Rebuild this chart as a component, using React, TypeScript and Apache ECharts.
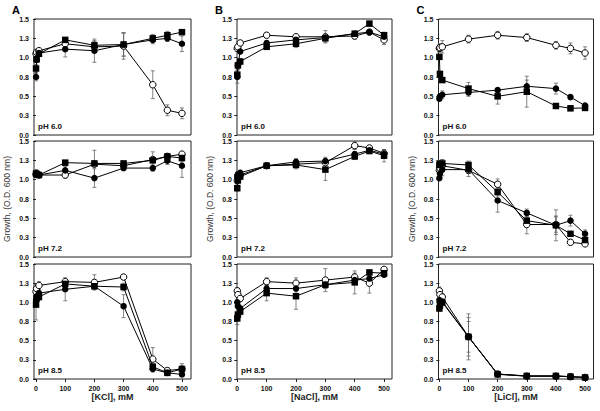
import React, { useEffect, useRef } from "react";
import * as echarts from "echarts";

// concentrations (mM)
const conc = [0, 2, 10, 100, 200, 300, 400, 450, 500];
const xTickValues = [0, 100, 200, 300, 400, 500];
const yTickLabels = ["0.0", "0.3", "0.5", "0.8", "1.0", "1.3", "1.5"];
const phLabels = ["pH 6.0", "pH 7.2", "pH 8.5"];
const saltTitles = ["[KCl], mM", "[NaCl], mM", "[LiCl], mM"];
const panelLetters = ["A", "B", "C"];

// KCl pH 6.0
const kcl60Filled = [0.75, 0.97, 1.06, 1.11, 1.09, 1.17, 1.23, 1.25, 1.18];
const kcl60Open = [1.05, 1.07, 1.09, 1.18, 1.14, 1.15, 0.65, 0.32, 0.28];
const kcl60Square = [0.86, 0.98, 1.05, 1.23, 1.16, 1.17, 1.25, 1.29, 1.33];
const kcl60FilledErr = [0.05, 0.03, 0.03, 0.1, 0.15, 0.15, 0.05, 0.04, 0.1];
const kcl60OpenErr = [0.03, 0.03, 0.03, 0.05, 0.08, 0.17, 0.18, 0.07, 0.07];
const kcl60SquareErr = [0.05, 0.03, 0.03, 0.03, 0.05, 0.15, 0.05, 0.05, 0.03];
// NaCl pH 6.0
const nacl60Filled = [0.75, 0.9, 1.08, 1.19, 1.23, 1.26, 1.31, 1.33, 1.27];
const nacl60Open = [1.12, 1.14, 1.19, 1.29, 1.27, 1.27, 1.28, 1.33, 1.23];
const nacl60Square = [0.78, 0.9, 0.95, 1.14, 1.18, 1.25, 1.31, 1.44, 1.29];
const nacl60FilledErr = [0.08, 0.05, 0.03, 0.03, 0.03, 0.03, 0.03, 0.03, 0.05];
const nacl60OpenErr = [0.03, 0.03, 0.03, 0.03, 0.03, 0.08, 0.04, 0.03, 0.06];
const nacl60SquareErr = [0.05, 0.05, 0.04, 0.03, 0.05, 0.05, 0.03, 0.03, 0.04];
// LiCl pH 6.0
const licl60Filled = [0.47, 0.5, 0.52, 0.55, 0.58, 0.63, 0.6, 0.49, 0.38];
const licl60Open = [1.12, 1.13, 1.14, 1.24, 1.29, 1.26, 1.16, 1.12, 1.06];
const licl60Square = [1.01, 0.79, 0.71, 0.6, 0.5, 0.56, 0.375, 0.345, 0.35];
const licl60FilledErr = [0.03, 0.03, 0.05, 0.05, 0.03, 0.08, 0.07, 0.03, 0.03];
const licl60OpenErr = [0.05, 0.05, 0.08, 0.05, 0.05, 0.05, 0.05, 0.07, 0.08];
const licl60SquareErr = [0.03, 0.03, 0.03, 0.08, 0.1, 0.2, 0.03, 0.03, 0.03];

// KCl pH 7.2
const kcl72Filled = [1.08, 1.07, 1.06, 1.12, 1.02, 1.15, 1.15, 1.245, 1.18];
const kcl72Open = [1.07, 1.07, 1.06, 1.06, 1.2, 1.18, 1.26, 1.3, 1.33];
const kcl72Square = [1.08, 1.07, 1.06, 1.22, 1.21, 1.21, 1.25, 1.3, 1.28];
const kcl72FilledErr = [0.05, 0.03, 0.03, 0.05, 0.12, 0.03, 0.04, 0.05, 0.15];
const kcl72OpenErr = [0.04, 0.03, 0.03, 0.04, 0.18, 0.03, 0.1, 0.03, 0.03];
const kcl72SquareErr = [0.05, 0.03, 0.03, 0.03, 0.03, 0.03, 0.03, 0.04, 0.05];
// NaCl pH 7.2
const nacl72Filled = [1.05, 1.07, 1.09, 1.18, 1.23, 1.24, 1.33, 1.38, 1.33];
const nacl72Open = [0.99, 1.03, 1.06, 1.18, 1.2, 1.22, 1.44, 1.41, 1.34];
const nacl72Square = [0.89, 0.99, 1.04, 1.18, 1.19, 1.13, 1.3, 1.37, 1.31];
const nacl72FilledErr = [0.04, 0.03, 0.03, 0.03, 0.04, 0.05, 0.03, 0.03, 0.05];
const nacl72OpenErr = [0.03, 0.03, 0.03, 0.03, 0.03, 0.03, 0.05, 0.03, 0.05];
const nacl72SquareErr = [0.04, 0.03, 0.03, 0.03, 0.05, 0.14, 0.04, 0.03, 0.08];
// LiCl pH 7.2
const licl72Filled = [1.02, 1.08, 1.13, 1.13, 0.73, 0.57, 0.41, 0.47, 0.3];
const licl72Open = [1.12, 1.15, 1.18, 1.12, 0.94, 0.42, 0.42, 0.19, 0.17];
const licl72Square = [1.19, 1.2, 1.21, 1.19, 0.84, 0.47, 0.41, 0.3, 0.22];
const licl72FilledErr = [0.03, 0.05, 0.08, 0.05, 0.15, 0.05, 0.12, 0.07, 0.05];
const licl72OpenErr = [0.05, 0.05, 0.08, 0.08, 0.07, 0.12, 0.1, 0.03, 0.03];
const licl72SquareErr = [0.05, 0.05, 0.05, 0.05, 0.05, 0.05, 0.2, 0.03, 0.03];

// KCl pH 8.5
const kcl85Filled = [1.03, 1.08, 1.12, 1.17, 1.21, 0.95, 0.13, 0.08, 0.06];
const kcl85Open = [1.14, 1.18, 1.22, 1.27, 1.26, 1.33, 0.26, 0.11, 0.13];
const kcl85Square = [0.97, 1.05, 1.07, 1.24, 1.21, 1.2, 0.16, 0.08, 0.13];
const kcl85FilledErr = [0.04, 0.03, 0.03, 0.15, 0.04, 0.15, 0.04, 0.02, 0.02];
const kcl85OpenErr = [0.04, 0.05, 0.05, 0.03, 0.1, 0.03, 0.15, 0.03, 0.03];
const kcl85SquareErr = [0.2, 0.04, 0.04, 0.03, 0.04, 0.05, 0.04, 0.03, 0.07];
// NaCl pH 8.5
const nacl85Filled = [1.0, 0.95, 0.92, 1.18, 1.18, 1.23, 1.29, 1.31, 1.36];
const nacl85Open = [1.15, 1.1, 1.05, 1.27, 1.25, 1.29, 1.33, 1.25, 1.43];
const nacl85Square = [0.79, 0.84, 0.88, 1.12, 1.08, 1.23, 1.26, 1.39, 1.38];
const nacl85FilledErr = [0.04, 0.04, 0.04, 0.05, 0.04, 0.05, 0.05, 0.04, 0.03];
const nacl85OpenErr = [0.04, 0.04, 0.04, 0.05, 0.07, 0.15, 0.05, 0.13, 0.03];
const nacl85SquareErr = [0.08, 0.05, 0.04, 0.1, 0.17, 0.05, 0.15, 0.03, 0.03];
// LiCl pH 8.5
const licl85Filled = [1.03, 1.02, 1.01, 0.55, 0.065, 0.04, 0.04, 0.03, 0.02];
const licl85Open = [1.15, 1.1, 1.07, 0.55, 0.065, 0.035, 0.035, 0.03, 0.02];
const licl85Square = [0.92, 0.96, 1.0, 0.55, 0.06, 0.04, 0.04, 0.03, 0.02];
const licl85FilledErr = [0.04, 0.04, 0.04, 0.3, 0.02, 0.01, 0.01, 0.01, 0.01];
const licl85OpenErr = [0.05, 0.04, 0.04, 0.25, 0.02, 0.01, 0.01, 0.01, 0.01];
const licl85SquareErr = [0.04, 0.04, 0.04, 0.2, 0.02, 0.01, 0.01, 0.01, 0.01];

type Panel = { col: number; row: number; filled: number[]; open: number[]; square: number[]; fErr: number[]; oErr: number[]; sErr: number[] };
const panels: Panel[] = [
  { col: 0, row: 0, filled: kcl60Filled, open: kcl60Open, square: kcl60Square, fErr: kcl60FilledErr, oErr: kcl60OpenErr, sErr: kcl60SquareErr },
  { col: 1, row: 0, filled: nacl60Filled, open: nacl60Open, square: nacl60Square, fErr: nacl60FilledErr, oErr: nacl60OpenErr, sErr: nacl60SquareErr },
  { col: 2, row: 0, filled: licl60Filled, open: licl60Open, square: licl60Square, fErr: licl60FilledErr, oErr: licl60OpenErr, sErr: licl60SquareErr },
  { col: 0, row: 1, filled: kcl72Filled, open: kcl72Open, square: kcl72Square, fErr: kcl72FilledErr, oErr: kcl72OpenErr, sErr: kcl72SquareErr },
  { col: 1, row: 1, filled: nacl72Filled, open: nacl72Open, square: nacl72Square, fErr: nacl72FilledErr, oErr: nacl72OpenErr, sErr: nacl72SquareErr },
  { col: 2, row: 1, filled: licl72Filled, open: licl72Open, square: licl72Square, fErr: licl72FilledErr, oErr: licl72OpenErr, sErr: licl72SquareErr },
  { col: 0, row: 2, filled: kcl85Filled, open: kcl85Open, square: kcl85Square, fErr: kcl85FilledErr, oErr: kcl85OpenErr, sErr: kcl85SquareErr },
  { col: 1, row: 2, filled: nacl85Filled, open: nacl85Open, square: nacl85Square, fErr: nacl85FilledErr, oErr: nacl85OpenErr, sErr: nacl85SquareErr },
  { col: 2, row: 2, filled: licl85Filled, open: licl85Open, square: licl85Square, fErr: licl85FilledErr, oErr: licl85OpenErr, sErr: licl85SquareErr },
];

// layout
const colLeft = [34, 237, 438.5];
const colWidth = [157, 155, 155];
const colXMin = [-7, -1, -3];
const colXMax = [531, 527, 529];
const rowTop = [19, 141, 264];
const rowHeight = [116, 116, 115];

const FONT = "'Liberation Sans', Arial, sans-serif";

function buildOption() {
  const grid: any[] = [];
  const xAxis: any[] = [];
  const yAxis: any[] = [];
  const series: any[] = [];
  const graphic: any[] = [];

  panels.forEach((p, i) => {
    const left = colLeft[p.col];
    const top = rowTop[p.row];
    const w = colWidth[p.col];
    const h = rowHeight[p.row];
    grid.push({ left, top, width: w, height: h, show: true, borderColor: "#222", borderWidth: 1, backgroundColor: "#fff", containLabel: false });
    const bottomRow = p.row === 2;
    xAxis.push({
      type: "value", gridIndex: i, min: colXMin[p.col], max: colXMax[p.col],
      axisLine: { show: false }, splitLine: { show: false },
      axisTick: { show: bottomRow, customValues: xTickValues, length: 3, lineStyle: { color: "#222" } },
      axisLabel: {
        show: bottomRow, customValues: xTickValues, fontSize: 7, fontWeight: "bold", color: "#111",
        fontFamily: FONT, margin: 6, formatter: (v: number) => String(Math.round(v)),
      },
    });
    yAxis.push({
      type: "value", gridIndex: i, min: 0, max: 1.5, interval: 0.25,
      axisLine: { show: false }, splitLine: { show: false },
      axisTick: { show: true, length: 3, lineStyle: { color: "#222" } },
      axisLabel: {
        fontSize: 7, fontWeight: "bold", color: "#111", fontFamily: FONT, margin: 5,
        formatter: (v: number) => yTickLabels[Math.round(v / 0.25)] ?? "",
      },
    });

    // drawing order: open circles (bottom), filled circles, squares (top)
    const sets = [
      { vals: p.open, errs: p.oErr, symbol: "circle", color: "#fff", size: 6.5 },
      { vals: p.filled, errs: p.fErr, symbol: "circle", color: "#000", size: 6.5 },
      { vals: p.square, errs: p.sErr, symbol: "rect", color: "#000", size: 6.5 },
    ];
    sets.forEach((s, k) => {
      series.push({
        type: "custom", xAxisIndex: i, yAxisIndex: i, z: 1, clip: false,
        data: conc.map((c, j) => [c, s.vals[j], s.errs[j]]),
        encode: { x: 0, y: 1 },
        renderItem: (params: any, api: any) => {
          const x = api.value(0), y = api.value(1), e = api.value(2);
          const a = api.coord([x, y + e]);
          const b = api.coord([x, y - e]);
          const st = { stroke: "#666", lineWidth: 0.8 };
          return {
            type: "group",
            children: [
              { type: "line", shape: { x1: a[0], y1: a[1], x2: b[0], y2: b[1] }, style: st },
              { type: "line", shape: { x1: a[0] - 2, y1: a[1], x2: a[0] + 2, y2: a[1] }, style: st },
              { type: "line", shape: { x1: b[0] - 2, y1: b[1], x2: b[0] + 2, y2: b[1] }, style: st },
            ],
          };
        },
      });
      series.push({
        type: "line", xAxisIndex: i, yAxisIndex: i, z: 3 + k,
        data: conc.map((c, j) => [c, s.vals[j]]),
        symbol: s.symbol, symbolSize: s.size, showSymbol: true,
        lineStyle: { color: "#000", width: 1 },
        itemStyle: { color: s.color, borderColor: "#000", borderWidth: s.color === "#fff" ? 1 : 0 },
        emphasis: { disabled: true },
      });
    });

    graphic.push({
      type: "text", left: left + 4, top: top + h - 13, z: 10,
      style: { text: phLabels[p.row], fontSize: 8, fontWeight: "bold", fill: "#111", fontFamily: FONT },
    });
  });

  // column letters, axis titles
  [0, 1, 2].forEach((c) => {
    const left = colLeft[c];
    const w = colWidth[c];
    graphic.push({
      type: "text", left: left - 22, top: 4,
      style: { text: panelLetters[c], fontSize: 11, fontWeight: "bold", fill: "#000", fontFamily: FONT },
    });
    graphic.push({
      type: "text", x: left + w / 2, y: 397,
      style: { text: saltTitles[c], fontSize: 9, fontWeight: "bold", fill: "#222", fontFamily: FONT, align: "center", verticalAlign: "middle" },
    });
    graphic.push({
      type: "text", x: left - 27, y: rowTop[1] + rowHeight[1] / 2, rotation: Math.PI / 2,
      style: { text: "Growth, (O.D. 600 nm)", fontSize: 8.5, fill: "#333", fontFamily: FONT, align: "center", verticalAlign: "middle" },
    });
  });

  return { animation: false, backgroundColor: "#fff", grid, xAxis, yAxis, series, graphic, tooltip: { show: false } };
}

export default function App() {
  const ref = useRef<HTMLDivElement>(null);
  useEffect(() => {
    if (!ref.current) return;
    const chart = echarts.init(ref.current, undefined, { renderer: "svg" });
    chart.setOption(buildOption() as any);
    return () => chart.dispose();
  }, []);
  return <div ref={ref} style={{ width: 600, height: 411, position: "absolute", left: 0, top: 0 }} />;
}
